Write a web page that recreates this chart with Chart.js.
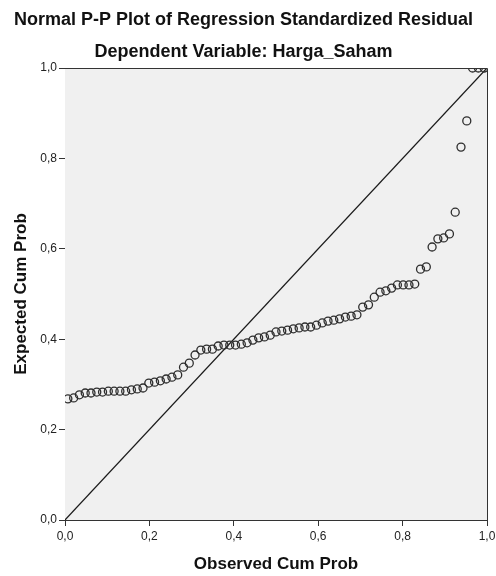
<!DOCTYPE html>
<html>
<head>
<meta charset="utf-8">
<script src="https://cdn.jsdelivr.net/npm/chart.js@4"></script>
<style>
  html, body { margin: 0; padding: 0; background: #ffffff; }
  #wrap { width: 496px; height: 576px; }
</style>
</head>
<body>
<div id="wrap"><canvas id="c" width="496" height="576"></canvas></div>
<script>
// ---- data ----
const titleText = 'Normal P-P Plot of Regression Standardized Residual';
const subtitleText = 'Dependent Variable: Harga_Saham';
const xAxisTitle = 'Observed Cum Prob';
const yAxisTitle = 'Expected Cum Prob';
const tickValues = [0, 0.2, 0.4, 0.6, 0.8, 1.0];
const tickLabels = ['0,0', '0,2', '0,4', '0,6', '0,8', '1,0'];

const observedCumProb = [
  0.0068, 0.0205, 0.0342, 0.0479, 0.0616, 0.0753, 0.0890, 0.1027, 0.1164, 0.1301,
  0.1438, 0.1575, 0.1712, 0.1849, 0.1986, 0.2123, 0.2260, 0.2397, 0.2534, 0.2671,
  0.2808, 0.2945, 0.3082, 0.3219, 0.3356, 0.3493, 0.3630, 0.3767, 0.3904, 0.4041,
  0.4178, 0.4315, 0.4452, 0.4589, 0.4726, 0.4863, 0.5000, 0.5137, 0.5274, 0.5411,
  0.5548, 0.5685, 0.5822, 0.5959, 0.6096, 0.6233, 0.6370, 0.6507, 0.6644, 0.6781,
  0.6918, 0.7055, 0.7192, 0.7329, 0.7466, 0.7603, 0.7740, 0.7877, 0.8014, 0.8151,
  0.8288, 0.8425, 0.8562, 0.8699, 0.8836, 0.8973, 0.9110, 0.9247, 0.9384, 0.9521,
  0.9658, 0.9795, 0.9932
];
const expectedCumProb = [
  0.268, 0.270, 0.277, 0.281, 0.281, 0.283, 0.283, 0.285, 0.285, 0.285,
  0.285, 0.288, 0.290, 0.292, 0.303, 0.305, 0.308, 0.312, 0.316, 0.321,
  0.338, 0.347, 0.365, 0.376, 0.378, 0.378, 0.385, 0.387, 0.387, 0.387,
  0.389, 0.392, 0.398, 0.403, 0.405, 0.409, 0.416, 0.418, 0.420, 0.423,
  0.425, 0.427, 0.427, 0.431, 0.436, 0.440, 0.442, 0.445, 0.449, 0.451,
  0.454, 0.471, 0.476, 0.493, 0.504, 0.507, 0.513, 0.520, 0.520, 0.520,
  0.522, 0.555, 0.560, 0.604, 0.622, 0.624, 0.633, 0.681, 0.825, 0.883,
  1.000, 1.000, 1.000
];
const referenceLineX = [0, 1];
const referenceLineY = [0, 1];

// ---- build ----
const points = observedCumProb.map((x, i) => ({ x: x, y: expectedCumProb[i] }));
const refLine = referenceLineX.map((x, i) => ({ x: x, y: referenceLineY[i] }));

const FONT = "'Liberation Sans', Arial, sans-serif";
const AX = '#333333';

const plotFrame = {
  id: 'plotFrame',
  beforeDatasetsDraw(chart) {
    const { ctx, chartArea: a } = chart;
    ctx.save();
    ctx.fillStyle = '#f0f0f0';
    ctx.fillRect(a.left, a.top, a.right - a.left, a.bottom - a.top);
    ctx.restore();
  },
  afterDatasetsDraw(chart) {
    const { ctx, chartArea: a } = chart;
    ctx.save();
    ctx.strokeStyle = AX;
    ctx.lineWidth = 1;
    ctx.beginPath();
    ctx.moveTo(a.left, a.top + 0.5);
    ctx.lineTo(a.right + 0.5, a.top + 0.5);
    ctx.lineTo(a.right + 0.5, a.bottom);
    ctx.stroke();
    ctx.restore();
  }
};

new Chart(document.getElementById('c'), {
  type: 'scatter',
  data: {
    datasets: [
      {
        type: 'line',
        data: refLine,
        borderColor: '#1a1a1a',
        borderWidth: 1.2,
        pointRadius: 0,
        fill: false,
        tension: 0,
        clip: 0,
        order: 2
      },
      {
        data: points,
        pointRadius: 4,
        pointBorderWidth: 1.3,
        borderColor: '#2e2e2e',
        backgroundColor: 'rgba(0,0,0,0)',
        pointBackgroundColor: 'rgba(0,0,0,0)',
        pointBorderColor: '#2e2e2e',
        clip: 0,
        order: 1
      }
    ]
  },
  plugins: [plotFrame],
  options: {
    responsive: false,
    animation: false,
    devicePixelRatio: 1,
    layout: { padding: { left: 0, right: 9, top: 0, bottom: 0 } },
    plugins: {
      legend: { display: false },
      tooltip: { enabled: false },
      title: {
        display: true,
        text: titleText,
        color: '#111',
        font: { family: FONT, size: 18, weight: 'bold', lineHeight: 1.2 },
        padding: { top: 9, bottom: 0 }
      },
      subtitle: {
        display: true,
        text: subtitleText,
        color: '#111',
        font: { family: FONT, size: 18, weight: 'bold', lineHeight: 1.2 },
        padding: { top: 11.1, bottom: 4.7 }
      }
    },
    scales: {
      x: {
        type: 'linear',
        min: 0, max: 1,
        afterBuildTicks(scale) { scale.ticks = tickValues.map(v => ({ value: v })); },
        afterFit(scale) { scale.height = 56; scale.paddingLeft = 0; scale.paddingRight = 0; },
        ticks: {
          color: '#222',
          font: { family: FONT, size: 12 },
          padding: 3,
          maxRotation: 0,
          callback: (v, i) => tickLabels[i]
        },
        grid: { drawOnChartArea: false, drawTicks: true, tickLength: 6, color: AX, tickColor: AX },
        border: { display: true, color: AX, width: 1 },
        title: {
          display: true,
          text: xAxisTitle,
          color: '#111',
          font: { family: FONT, size: 17, weight: 'bold', lineHeight: 1.2 },
          padding: { top: 0, bottom: 1.5 }
        }
      },
      y: {
        type: 'linear',
        min: 0, max: 1,
        afterBuildTicks(scale) { scale.ticks = tickValues.map(v => ({ value: v })); },
        afterFit(scale) { scale.width = 65; scale.paddingTop = 0; scale.paddingBottom = 0; },
        ticks: {
          color: '#222',
          font: { family: FONT, size: 12 },
          padding: 2,
          callback: (v, i) => tickLabels[i]
        },
        grid: { drawOnChartArea: false, drawTicks: true, tickLength: 6, color: AX, tickColor: AX },
        border: { display: true, color: AX, width: 1 },
        title: {
          display: true,
          text: yAxisTitle,
          color: '#111',
          font: { family: FONT, size: 17, weight: 'bold', lineHeight: 1.2 },
          padding: { top: 10.8, bottom: 0 }
        }
      }
    }
  }
});
</script>
</body>
</html>
